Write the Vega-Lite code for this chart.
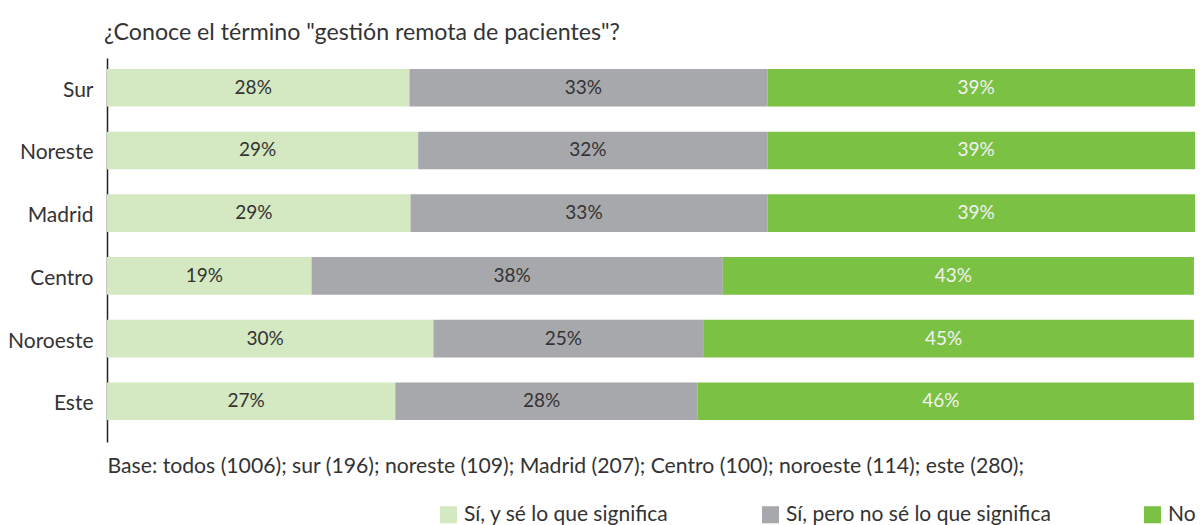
{
  "$schema": "https://vega.github.io/schema/vega-lite/v6.json",
  "width": 1088,
  "height": 384,
  "autosize": {"type": "none"},
  "padding": {"left": 107, "top": 58, "right": 6, "bottom": 83},
  "background": "white",
  "config": {
    "font": "Lato",
    "view": {"stroke": null}
  },
  "title": {
    "text": "¿Conoce el término \"gestión remota de pacientes\"?",
    "anchor": "start",
    "frame": "group",
    "dx": -3,
    "offset": 13,
    "fontSize": 23.2,
    "fontWeight": "normal",
    "color": "#333333",
    "font": "Lato"
  },
  "data": {
    "values": [
      {"region": "Sur", "resp": "Sí, y sé lo que significa", "orden": 1, "valor": 27.8, "etiqueta": "28%"},
      {"region": "Sur", "resp": "Sí, pero no sé lo que significa", "orden": 2, "valor": 32.9, "etiqueta": "33%"},
      {"region": "Sur", "resp": "No", "orden": 3, "valor": 39.3, "etiqueta": "39%"},
      {"region": "Noreste", "resp": "Sí, y sé lo que significa", "orden": 1, "valor": 28.6, "etiqueta": "29%"},
      {"region": "Noreste", "resp": "Sí, pero no sé lo que significa", "orden": 2, "valor": 32.1, "etiqueta": "32%"},
      {"region": "Noreste", "resp": "No", "orden": 3, "valor": 39.3, "etiqueta": "39%"},
      {"region": "Madrid", "resp": "Sí, y sé lo que significa", "orden": 1, "valor": 27.9, "etiqueta": "29%"},
      {"region": "Madrid", "resp": "Sí, pero no sé lo que significa", "orden": 2, "valor": 32.8, "etiqueta": "33%"},
      {"region": "Madrid", "resp": "No", "orden": 3, "valor": 39.3, "etiqueta": "39%"},
      {"region": "Centro", "resp": "Sí, y sé lo que significa", "orden": 1, "valor": 18.8, "etiqueta": "19%"},
      {"region": "Centro", "resp": "Sí, pero no sé lo que significa", "orden": 2, "valor": 37.8, "etiqueta": "38%"},
      {"region": "Centro", "resp": "No", "orden": 3, "valor": 43.3, "etiqueta": "43%"},
      {"region": "Noroeste", "resp": "Sí, y sé lo que significa", "orden": 1, "valor": 30.0, "etiqueta": "30%"},
      {"region": "Noroeste", "resp": "Sí, pero no sé lo que significa", "orden": 2, "valor": 24.8, "etiqueta": "25%"},
      {"region": "Noroeste", "resp": "No", "orden": 3, "valor": 45.1, "etiqueta": "45%"},
      {"region": "Este", "resp": "Sí, y sé lo que significa", "orden": 1, "valor": 26.5, "etiqueta": "27%"},
      {"region": "Este", "resp": "Sí, pero no sé lo que significa", "orden": 2, "valor": 27.8, "etiqueta": "28%"},
      {"region": "Este", "resp": "No", "orden": 3, "valor": 45.6, "etiqueta": "46%"}
    ]
  },
  "transform": [
    {"stack": "valor", "groupby": ["region"], "sort": [{"field": "orden", "order": "ascending"}], "as": ["x0", "x1"]},
    {"calculate": "(datum.x0 + datum.x1) / 2", "as": "xm"}
  ],
  "encoding": {
    "y": {
      "field": "region",
      "type": "nominal",
      "sort": ["Sur", "Noreste", "Madrid", "Centro", "Noroeste", "Este"],
      "scale": {"paddingInner": 0.4, "paddingOuter": 0.262, "align": 0.333},
      "axis": {
        "title": null,
        "ticks": false,
        "domainColor": "#222222",
        "domainWidth": 1.5,
        "labelFontSize": 21,
        "labelColor": "#333333",
        "labelPadding": 14,
        "labelOffset": 3,
        "labelFont": "Lato"
      }
    }
  },
  "layer": [
    {
      "mark": {"type": "bar"},
      "encoding": {
        "x": {
          "field": "x0",
          "type": "quantitative",
          "scale": {"domain": [0, 100], "nice": false},
          "axis": {
            "title": "Base: todos (1006); sur (196); noreste (109); Madrid (207); Centro (100); noroeste (114); este (280);",
            "titleAnchor": "start",
            "titleAlign": "left",
            "titleFontSize": 21.2,
            "titleFontWeight": "normal",
            "titleColor": "#333333",
            "titleFont": "Lato",
            "titlePadding": 13,
            "domain": false,
            "ticks": false,
            "labels": false,
            "grid": false
          }
        },
        "x2": {"field": "x1"},
        "color": {
          "field": "resp",
          "type": "nominal",
          "scale": {
            "domain": ["Sí, y sé lo que significa", "Sí, pero no sé lo que significa", "No"],
            "range": ["#d4e8c2", "#a7a8ab", "#7bc143"]
          },
          "legend": {
            "title": null,
            "orient": "none",
            "direction": "horizontal",
            "legendX": 331,
            "legendY": 446,
            "symbolType": "square",
            "symbolSize": 290,
            "symbolStrokeWidth": 0,
            "labelFontSize": 21,
            "labelColor": "#333333",
            "labelFont": "Lato",
            "labelOffset": 5,
            "labelLimit": 400,
            "columnPadding": 91
          }
        }
      }
    },
    {
      "mark": {"type": "text", "fontSize": 19, "baseline": "middle", "align": "center", "dx": -5, "font": "Lato"},
      "encoding": {
        "x": {"field": "xm", "type": "quantitative"},
        "text": {"field": "etiqueta"},
        "color": {
          "condition": {"test": "datum.resp === 'No'", "value": "#f2f2f2"},
          "value": "#333333"
        }
      }
    }
  ]
}
